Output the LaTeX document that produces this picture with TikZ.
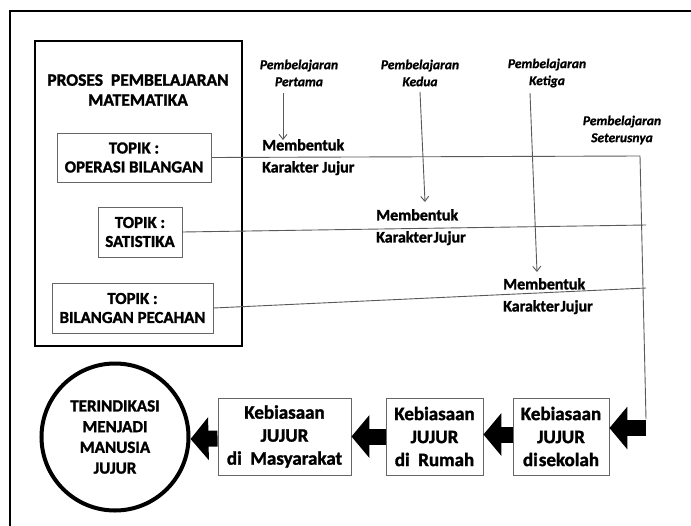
\documentclass[tikz,border=0pt]{standalone}
\usepackage{fontspec}
\setmainfont{Carlito}[BoldFont={Carlito Bold}, ItalicFont={Carlito Italic}, BoldItalicFont={Carlito Bold Italic}, BoldFeatures={FakeBold=1.5}, BoldItalicFeatures={FakeBold=1}]
\usetikzlibrary{arrows.meta}
\begin{document}
\begin{tikzpicture}[x=1pt,y=-1pt,
  thinline/.style={draw=black!65, line width=0.9pt},
  smallarrow/.style={thinline, -{Straight Barb[length=5pt,width=8pt]}},
  bigarrow/.style={line width=16pt, draw=black, -{Triangle[length=18pt,width=42pt]}},
  topicbox/.style={draw=black!60, line width=0.9pt, rectangle, inner sep=0pt, align=center,
    font=\fontsize{16.8}{19}\selectfont\bfseries},
  habitbox/.style={draw=black!60, line width=0.9pt, rectangle, inner sep=0pt, align=center,
    minimum height=77pt, font=\fontsize{19}{23}\selectfont\bfseries},
  learnlabel/.style={align=center, inner sep=0pt, font=\fontsize{13.5}{17}\selectfont\bfseries\itshape},
  formlabel/.style={align=left, anchor=north west, inner sep=0pt, font=\fontsize{16}{22}\selectfont\bfseries}
]
\useasboundingbox (0,0) rectangle (691,525);
\fill[white] (0,0) rectangle (691,525);
% outer frame
\draw[line width=2pt] (10,530) -- (10,11) -- (696,11);
% process box
\node[draw, line width=2.5pt, minimum width=207pt, minimum height=305pt, inner sep=0pt] (proc) at (138.5,193.5) {};
\node[align=center, inner sep=0pt, font=\fontsize{17.5}{20}\selectfont\bfseries] (title) at (138,90) {PROSES\ \ PEMBELAJARAN\\MATEMATIKA};
% topics
\node[topicbox, minimum width=154pt, minimum height=49pt] (t1) at (134,157.5) {TOPIK :\\OPERASI BILANGAN};
\node[topicbox, minimum width=84pt, minimum height=50pt] (t2) at (140,232) {TOPIK :\\SATISTIKA};
\node[topicbox, minimum width=161pt, minimum height=50pt] (t3) at (132.5,308) {TOPIK :\\BILANGAN PECAHAN};
% learning labels
\node[learnlabel] (p1) at (299,73) {Pembelajaran\\Pertama};
\node[learnlabel] (p2) at (420,73) {Pembelajaran\\Kedua};
\node[learnlabel] (p3) at (547,73) {Pembelajaran\\Ketiga};
\node[learnlabel] (p4) at (622,130) {Pembelajaran\\Seterusnya};
% forming labels
\node[formlabel] (m1) at (262,139) {Membentuk\\Karakter Jujur};
\node[formlabel] (m2) at (376,209) {Membentuk\\Karakter\hspace{1pt}Jujur};
\node[formlabel] (m3) at (503,278) {Membentuk\\Karakter\hspace{1pt}Jujur};
% small arrows
\draw[smallarrow] (283,93) -- (283,140);
\draw[smallarrow] (420,92) -- (425,202);
\draw[smallarrow] (530,93) -- (537,272);
% connector lines
\coordinate (c1) at (640,156);
\coordinate (c2) at (646,419);
\coordinate (e2) at (646,225);
\coordinate (e3) at (646,288);
\draw[thinline] (t1.east) -- (c1) -- (c2);
\draw[thinline] (t2.east) -- (e2);
\draw[thinline] (t3.east) -- (e3);
% bottom row
\node[draw, circle, line width=4pt, minimum size=147pt, inner sep=0pt, align=center,
  font=\fontsize{17}{20.7}\selectfont\bfseries] (goal) at (115,437) {TERINDIKASI\\MENJADI\\MANUSIA\\JUJUR};
\node[habitbox, minimum width=133pt] (h3) at (284.5,436.5) {Kebiasaan\\JUJUR\\di\ \ Masyarakat};
\node[habitbox, minimum width=97pt] (h2) at (434.5,436.5) {Kebiasaan\\JUJUR\\di\ \ Rumah};
\node[habitbox, minimum width=96pt] (h1) at (561,436.5) {Kebiasaan\\JUJUR\\di\hspace{1pt}sekolah};
\coordinate (a0) at (646,428);
\draw[bigarrow] (a0) -- (a0 -| h1.east);
\draw[bigarrow] ([yshift=2pt]h1.west) -- ([yshift=2pt]h2.east);
\draw[bigarrow] (h2.west) -- (h3.east);
\draw[bigarrow] ([yshift=-2pt]h3.west) -- ([yshift=-2pt]goal.east);
\end{tikzpicture}
\end{document}
